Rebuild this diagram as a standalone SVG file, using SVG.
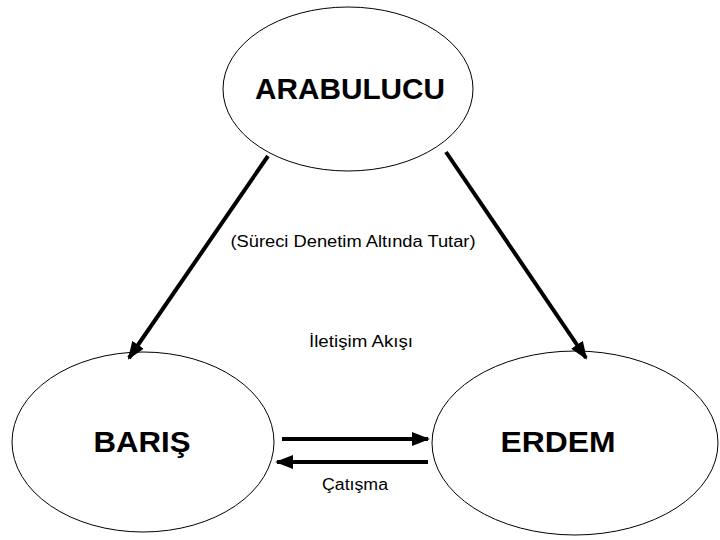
<svg xmlns="http://www.w3.org/2000/svg" width="720" height="540" viewBox="0 0 720 540">
<style>
.n{fill:#fff;stroke:#000;stroke-width:1}
.t{font-family:"Liberation Sans",Arial,sans-serif;font-weight:bold;font-size:29px;text-anchor:middle}
.l{font-family:"Liberation Sans",Arial,sans-serif;font-size:16px;text-anchor:middle}
.c{stroke:#000;stroke-width:4;fill:none;marker-end:url(#a)}
</style>
<defs><marker id="a" markerUnits="userSpaceOnUse" markerWidth="18" markerHeight="14" refX="16" refY="7" orient="auto"><path d="M0,0 L18,7 L0,14 Z"/></marker></defs>
<rect width="720" height="540" fill="#fff"/>
<g id="arabulucu"><ellipse class="n" cx="348" cy="89" rx="125" ry="82"/><text class="t" x="350" y="99" textLength="190" lengthAdjust="spacingAndGlyphs">ARABULUCU</text></g>
<g id="baris"><ellipse class="n" cx="143" cy="442" rx="131" ry="90"/><text class="t" x="142" y="452" textLength="97" lengthAdjust="spacingAndGlyphs">BARIŞ</text></g>
<g id="erdem"><ellipse class="n" cx="575" cy="443" rx="143" ry="92"/><text class="t" x="558" y="452" textLength="115" lengthAdjust="spacingAndGlyphs">ERDEM</text></g>
<g id="connectors">
<line class="c" x1="268" y1="156" x2="129" y2="358"/>
<line class="c" x1="446" y1="152" x2="586" y2="358"/>
<line class="c" x1="282" y1="439" x2="428" y2="439"/>
<line class="c" x1="428" y1="462" x2="277" y2="462"/>
</g>
<text class="l" x="353" y="247" textLength="245" lengthAdjust="spacingAndGlyphs">(Süreci Denetim Altında Tutar)</text>
<text class="l" x="361" y="347" textLength="104" lengthAdjust="spacingAndGlyphs">İletişim Akışı</text>
<text class="l" x="355" y="490" textLength="66" lengthAdjust="spacingAndGlyphs">Çatışma</text>
</svg>
